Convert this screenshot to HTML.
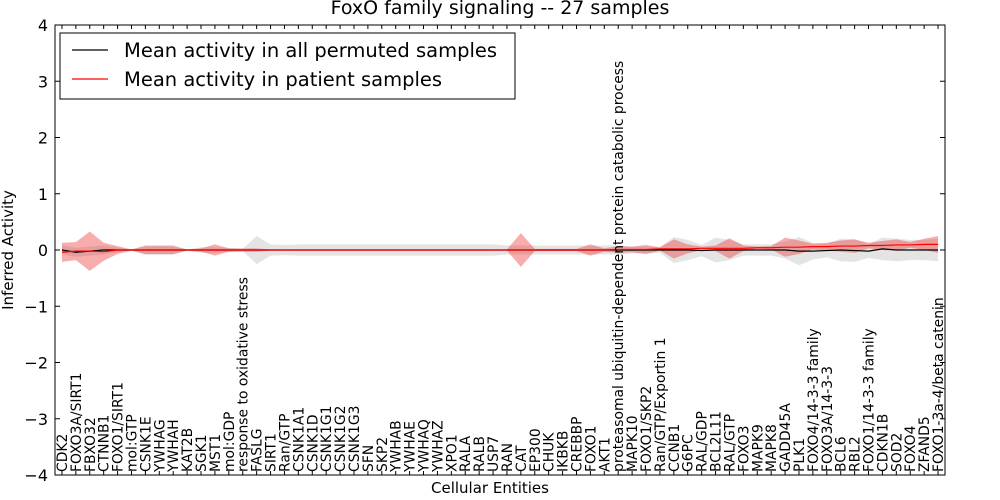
<!DOCTYPE html>
<html><head><meta charset="utf-8"><style>
body{margin:0;background:#fff;}
svg{display:block;font-family:"DejaVu Sans","Liberation Sans",sans-serif;}
</style></head><body>
<svg id="chart" width="1000" height="500">
<rect x="0" y="0" width="1000" height="500" fill="#fff"/>
<text x="500" y="14" text-anchor="middle" font-size="19">FoxO family signaling -- 27 samples</text>
<g id="bands"></g><g id="lines"></g>
<rect x="55" y="25" width="890" height="450" fill="none" stroke="#000" stroke-width="1"/>
<g id="axes"></g>
<text x="490" y="493" text-anchor="middle" font-size="15">Cellular Entities</text>
<text transform="translate(13,250) rotate(-90)" text-anchor="middle" font-size="15">Inferred Activity</text>
<g>
<rect x="60" y="33" width="455" height="66" fill="#fff" stroke="#000" stroke-width="1"/>
<line x1="72" y1="50" x2="108" y2="50" stroke="#000" stroke-width="1.2"/>
<text x="124" y="57" font-size="19.5">Mean activity in all permuted samples</text>
<line x1="72" y1="79" x2="108" y2="79" stroke="#f00" stroke-width="1.2"/>
<text x="124" y="86" font-size="19.5">Mean activity in patient samples</text>
</g>
</svg>
<script>
const categories=["CDK2","FOXO3A/SIRT1","FBXO32","CTNNB1","FOXO1/SIRT1","mol:GTP","CSNK1E","YWHAG","YWHAH","KAT2B","SGK1","MST1","mol:GDP","response to oxidative stress","FASLG","SIRT1","Ran/GTP","CSNK1A1","CSNK1D","CSNK1G1","CSNK1G2","CSNK1G3","SFN","SKP2","YWHAB","YWHAE","YWHAQ","YWHAZ","XPO1","RALA","RALB","USP7","RAN","CAT","EP300","CHUK","IKBKB","CREBBP","FOXO1","AKT1","proteasomal ubiquitin-dependent protein catabolic process","MAPK10","FOXO1/SKP2","Ran/GTP/Exportin 1","CCNB1","G6PC","RAL/GDP","BCL2L11","RAL/GTP","FOXO3","MAPK9","MAPK8","GADD45A","PLK1","FOXO4/14-3-3 family","FOXO3A/14-3-3","BCL6","RBL2","FOXO1/14-3-3 family","CDKN1B","SOD2","FOXO4","ZFAND5","FOXO1-3a-4/beta catenin"];
const patientMean=[-0.04,-0.02,-0.02,-0.03,0,0,0,0,0,0,0,0,0,0,0,0,0,0,0,0,0,0,0,0,0,0,0,0,0,0,0,0,0,0,0,0,0,0,0,0,0.01,0.01,0.01,0.02,0.02,0.02,0.03,0.03,0.03,0.03,0.04,0.04,0.05,0.05,0.06,0.06,0.07,0.07,0.08,0.08,0.09,0.09,0.1,0.1];
const patientSpread=[0.17,0.16,0.35,0.16,0.07,0.01,0.07,0.07,0.07,0.01,0.03,0.1,0.03,0.03,0.03,0.01,0.01,0.01,0.01,0.01,0.01,0.01,0.01,0.01,0.01,0.01,0.01,0.01,0.01,0.01,0.01,0.01,0.01,0.3,0.02,0.02,0.02,0.02,0.1,0.03,0.06,0.05,0.08,0.03,0.17,0.08,0.03,0.05,0.18,0.05,0.02,0.03,0.17,0.12,0.05,0.07,0.1,0.12,0.05,0.08,0.1,0.05,0.1,0.15];
const permMean=[0,-0.04,-0.02,0,0,0,0,0,0,0,0,0,0,0,0,0,0,0,0,0,0,0,0,0,0,0,0,0,0,0,0,0,0,0,0,0,0,0,0,0,0,0,0,0,0,0,-0.01,0,0,0,0,0,0,-0.02,-0.02,-0.01,0,-0.01,-0.02,0.02,0,0,0,0];
const permSpread=[0.08,0.08,0.08,0.08,0.04,0.01,0.09,0.09,0.09,0.01,0.05,0.05,0.04,0.02,0.25,0.1,0.09,0.1,0.1,0.1,0.1,0.1,0.1,0.1,0.1,0.1,0.1,0.1,0.1,0.1,0.1,0.1,0.08,0.08,0.08,0.08,0.08,0.08,0.08,0.08,0.08,0.06,0.06,0.05,0.23,0.18,0.1,0.22,0.18,0.1,0.1,0.1,0.15,0.25,0.15,0.12,0.2,0.2,0.12,0.2,0.2,0.18,0.18,0.2];
const yTicks=[-4,-3,-2,-1,0,1,2,3,4];
const NS="http://www.w3.org/2000/svg";
const X0=55,X1=945,Y0=25,Y1=475;
function xs(i){return X0+(i+0.5)*(X1-X0)/categories.length;}
function ys(v){return Y1-(v+4)/8*(Y1-Y0);}
function mk(t,a,p){const e=document.createElementNS(NS,t);for(const k in a)e.setAttribute(k,a[k]);(p||document.getElementById('chart')).appendChild(e);return e;}
const bands=document.getElementById('bands'),lines=document.getElementById('lines'),axes=document.getElementById('axes');
function band(mean,sp,fill,op){let up=mean.map((m,i)=>xs(i)+','+ys(m+sp[i]));let dn=mean.map((m,i)=>xs(i)+','+ys(m-sp[i])).reverse();return mk('polygon',{points:up.concat(dn).join(' '),fill:fill,'fill-opacity':op},bands);}
const gb=band(permMean,permSpread,'#bbb',0.4);


const rb=band(patientMean,patientSpread,'#e33',0.4);


const dl=mk('polyline',{points:permMean.map((m,i)=>xs(i)+','+ys(m)).join(' '),fill:'none',stroke:'#000','stroke-width':1.2},lines);


const pl=mk('polyline',{points:patientMean.map((m,i)=>xs(i)+','+ys(m)).join(' '),fill:'none',stroke:'#f00','stroke-width':1.2},lines);


yTicks.forEach(v=>{const y=ys(v);
mk('line',{x1:X0,y1:y,x2:X0+5,y2:y,stroke:'#000'},axes);
mk('line',{x1:X1,y1:y,x2:X1-5,y2:y,stroke:'#000'},axes);
const t=mk('text',{x:X0-7,y:y+6,'text-anchor':'end','font-size':16},axes);
t.textContent=(v<0?'\u2212'+(-v):v);

});
categories.forEach((c,i)=>{const x=xs(i);
mk('line',{x1:x,y1:Y1,x2:x,y2:Y1-4,stroke:'#000'},axes);
mk('line',{x1:x,y1:Y0,x2:x,y2:Y0+4,stroke:'#000'},axes);
const t=mk('text',{transform:'translate('+(x+5)+','+(Y1-3)+') rotate(-90)','font-size':13.9},axes);
t.textContent=c;

});
</script>
</body></html>
